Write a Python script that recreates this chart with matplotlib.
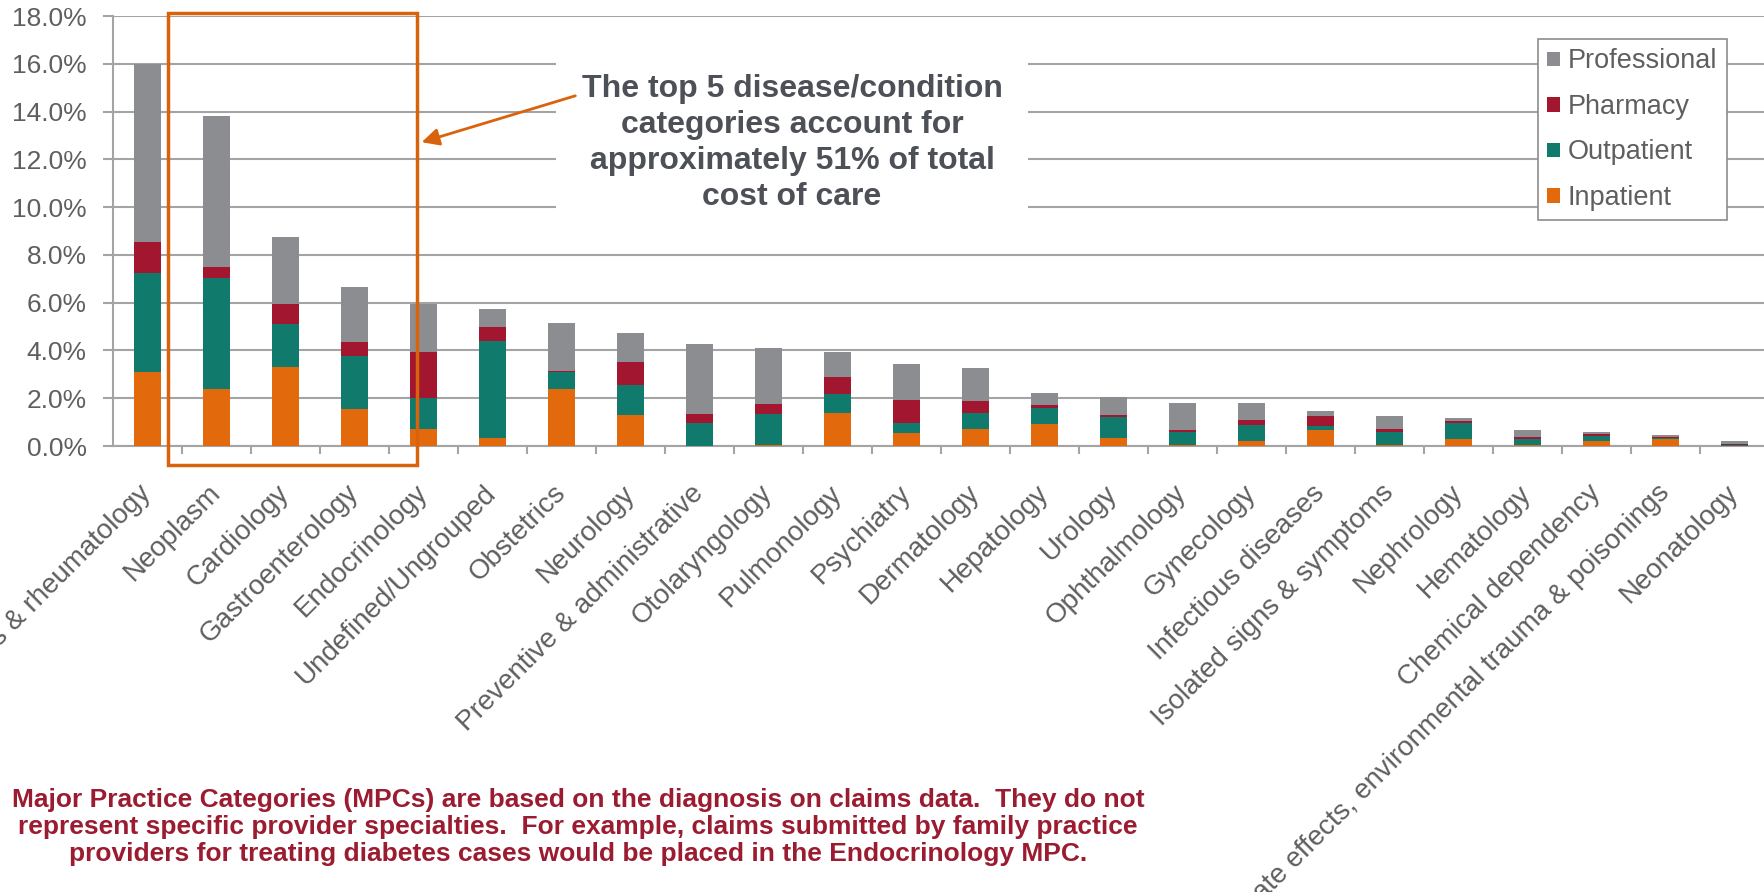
import numpy as np
import matplotlib
matplotlib.use("Agg")
import matplotlib.pyplot as plt
from matplotlib.patches import Rectangle, FancyArrowPatch
from matplotlib.ticker import FuncFormatter, FixedLocator

plt.rcParams['font.family'] = ['Liberation Sans', 'DejaVu Sans']

# share of total cost of care (%) by major practice category
categories = ["Orthopedics & rheumatology", "Neoplasm", "Cardiology", "Gastroenterology",
              "Endocrinology", "Undefined/Ungrouped", "Obstetrics", "Neurology",
              "Preventive & administrative", "Otolaryngology", "Pulmonology", "Psychiatry",
              "Dermatology", "Hepatology", "Urology", "Ophthalmology", "Gynecology",
              "Infectious diseases", "Isolated signs & symptoms", "Nephrology", "Hematology",
              "Chemical dependency", "Late effects, environmental trauma & poisonings",
              "Neonatology"]
inpatient = [3.1, 2.4, 3.3, 1.55, 0.7, 0.35, 2.4, 1.3, 0.02, 0.05, 1.4, 0.55,
             0.7, 0.92, 0.33, 0.03, 0.23, 0.65, 0.03, 0.28, 0.05, 0.23, 0.3, 0.02]
outpatient = [4.15, 4.65, 1.8, 2.2, 1.3, 4.05, 0.7, 1.25, 0.93, 1.3, 0.78, 0.4,
              0.68, 0.68, 0.87, 0.56, 0.64, 0.17, 0.57, 0.68, 0.25, 0.17, 0.03, 0.02]
pharmacy = [1.3, 0.45, 0.85, 0.6, 1.95, 0.6, 0.05, 0.95, 0.38, 0.4, 0.7, 0.97,
            0.5, 0.1, 0.1, 0.1, 0.2, 0.45, 0.1, 0.1, 0.07, 0.1, 0.06, 0.06]
professional = [7.45, 6.3, 2.8, 2.3, 2.0, 0.75, 2.0, 1.25, 2.95, 2.35, 1.05, 1.5,
                1.38, 0.53, 0.76, 1.1, 0.72, 0.2, 0.56, 0.11, 0.3, 0.08, 0.08, 0.1]

series = [("Inpatient", inpatient, "#e2690c"),
          ("Outpatient", outpatient, "#107a6d"),
          ("Pharmacy", pharmacy, "#a2172f"),
          ("Professional", professional, "#8b8d90")]

W, H = 1764, 892
fig = plt.figure(figsize=(W / 100, H / 100), dpi=100)
ax = fig.add_axes([113 / W, 1 - 446 / H, 24 * 69 / W, 430 / H])

grid_c = "#a4a4a4"
text_c = "#5f5f5f"

x = np.arange(len(categories))
bottom = np.zeros(len(categories))
bars = {}
for name, vals, col in series:
    bars[name] = ax.bar(x, vals, 0.4, bottom=bottom, color=col, zorder=3, label=name)
    bottom += np.array(vals)

ax.set_xlim(-0.5, len(categories) - 0.5)
ax.set_ylim(0, 18)
ax.set_yticks(np.arange(0, 18.1, 2))
ax.yaxis.set_major_formatter(FuncFormatter(lambda v, p: f"{v:.1f}%"))
ax.grid(axis='y', color=grid_c, linewidth=1.5, zorder=0)
for s in ['top', 'right']:
    ax.spines[s].set_visible(False)
for s in ['left', 'bottom']:
    ax.spines[s].set_color(grid_c)
    ax.spines[s].set_linewidth(1.5)
ax.tick_params(axis='y', colors=grid_c, length=7, width=1.5, labelsize=19,
               labelcolor=text_c, pad=12)

ax.set_xticks(x)
ax.set_xticklabels(categories, rotation=45, ha='right', va='center',
                   rotation_mode='anchor', fontsize=20, color=text_c)
ax.tick_params(axis='x', which='major', length=0, pad=31)
ax.xaxis.set_minor_locator(FixedLocator(np.arange(0.5, len(categories) - 0.5, 1)))
ax.tick_params(axis='x', which='minor', length=6, width=1.5, color=grid_c)

# legend, top series first
handles = [bars[n] for n in ["Professional", "Pharmacy", "Outpatient", "Inpatient"]]
leg = fig.legend(handles, [h.get_label() for h in handles], loc='upper left',
                 bbox_to_anchor=(1538 / W, 1 - 39 / H), borderaxespad=0, fontsize=19.5,
                 handlelength=0.45, handleheight=0.45, handletextpad=0.3,
                 labelspacing=0.72, borderpad=0.35, fancybox=False,
                 labelcolor=text_c, framealpha=1)
leg.get_frame().set_edgecolor("#8c8c8c")
leg.get_frame().set_linewidth(1.2)

# box around the top five categories
fig.patches.append(Rectangle((168 / W, 1 - 465 / H), (417 - 168) / W, (465 - 13) / H,
                             transform=fig.transFigure, fill=False,
                             edgecolor="#d9620c", linewidth=2.5, zorder=5))

# callout text on a white panel
fig.patches.append(Rectangle((556 / W, 1 - 240 / H), (1028 - 556) / W, 208 / H,
                             transform=fig.transFigure, facecolor='white',
                             edgecolor='none', zorder=4))
fig.text(792 / W, 1 - 143 / H,
         "The top 5 disease/condition\ncategories account for\napproximately 51% of total\ncost of care",
         ha='center', va='center', fontsize=23, fontweight='bold', color="#4d5057",
         linespacing=1.27, zorder=6)
fig.patches.append(FancyArrowPatch((578 / W, 1 - 95 / H), (419 / W, 1 - 143 / H),
                                   transform=fig.transFigure, arrowstyle='-|>',
                                   mutation_scale=26, color="#d9620c",
                                   linewidth=2, zorder=6))

fig.text(578 / W, 1 - 827 / H,
         "Major Practice Categories (MPCs) are based on the diagnosis on claims data.  They do not\n"
         "represent specific provider specialties.  For example, claims submitted by family practice\n"
         "providers for treating diabetes cases would be placed in the Endocrinology MPC.",
         ha='center', va='center', fontsize=19, fontweight='bold', color="#9b1b30",
         linespacing=1.17)

fig.savefig("out.png", dpi=100)
